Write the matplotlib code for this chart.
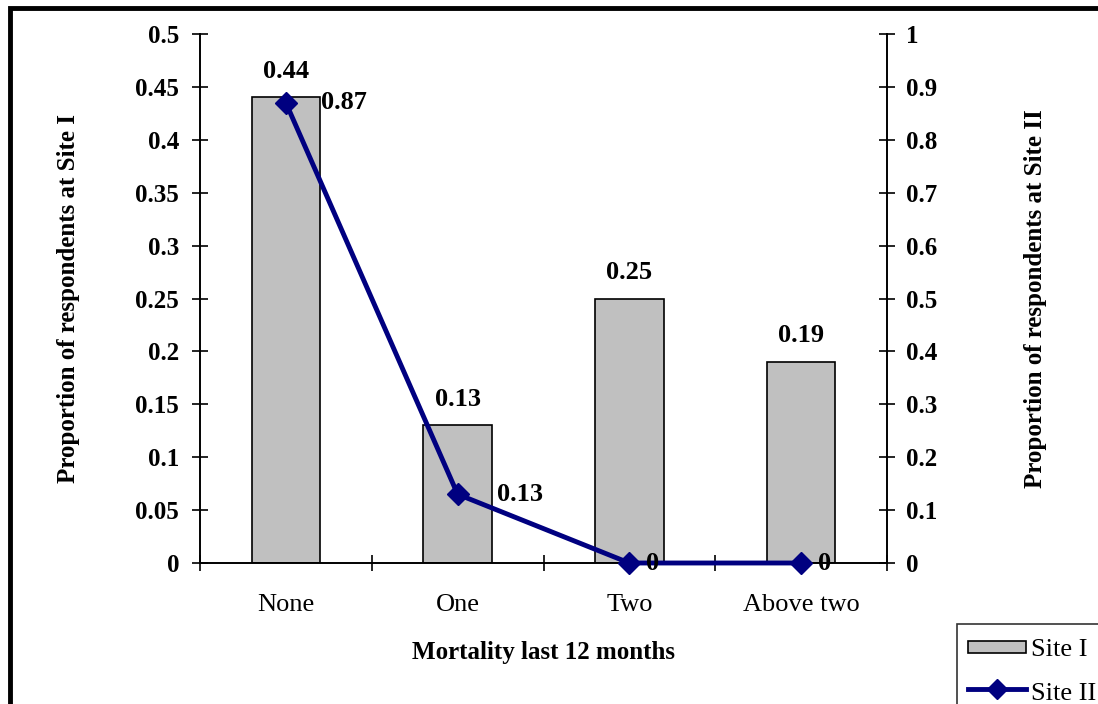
import matplotlib.pyplot as plt
from matplotlib.patches import Rectangle
from matplotlib.lines import Line2D
from matplotlib.patches import Patch
from matplotlib.legend_handler import HandlerPatch

plt.rcParams['font.family'] = ['Liberation Serif', 'DejaVu Serif']

categories = ['None', 'One', 'Two', 'Above two']
site1 = [0.44, 0.13, 0.25, 0.19]
site2 = [0.87, 0.13, 0, 0]
# horizontal shift (points) of the Site II value labels
site2_label_dx = [25, 28, 12, 12]

W, H = 1098, 704
fig = plt.figure(figsize=(W / 100, H / 100), dpi=100)

# axes box in pixel coordinates
left, right, top, bottom = 200, 887, 34, 563
ax = fig.add_axes([left / W, 1 - bottom / H, (right - left) / W, (bottom - top) / H])
ax2 = ax.twinx()

navy = '#000080'
x = list(range(len(categories)))
ax.bar(x, site1, width=0.4, color='#c0c0c0', edgecolor='black', linewidth=1.2, zorder=2)
ax2.plot(x, site2, color=navy, linewidth=3.5, marker='D', markersize=11,
         clip_on=False, zorder=3)

ax.set_xlim(-0.5, 3.5)
ax.set_ylim(0, 0.5)
ax2.set_ylim(0, 1)

ax.set_yticks([i * 0.05 for i in range(11)])
ax.set_yticklabels(['0', '0.05', '0.1', '0.15', '0.2', '0.25', '0.3', '0.35', '0.4', '0.45', '0.5'])
ax2.set_yticks([i * 0.1 for i in range(11)])
ax2.set_yticklabels(['0', '0.1', '0.2', '0.3', '0.4', '0.5', '0.6', '0.7', '0.8', '0.9', '1'])

ax.set_xticks([-0.5, 0.5, 1.5, 2.5, 3.5])
ax.set_xticklabels([])
ax.set_xticks(x, minor=True)
ax.set_xticklabels(categories, minor=True, fontsize=19)
ax.tick_params(axis='x', which='minor', length=0, pad=22)
ax.tick_params(axis='x', which='major', direction='inout', length=12, width=1.2)
ax.tick_params(axis='y', direction='inout', length=12, width=1.2, labelsize=18, pad=9)
ax2.tick_params(axis='y', direction='inout', length=12, width=1.2, labelsize=18, pad=8)
for lab in ax.get_yticklabels() + ax2.get_yticklabels():
    lab.set_fontweight('bold')

for a in (ax, ax2):
    a.spines['top'].set_visible(False)
    for s in ('left', 'right', 'bottom'):
        a.spines[s].set_linewidth(1.2)

ax.set_xlabel('Mortality last 12 months', fontsize=18, fontweight='bold', labelpad=18)
ax.set_ylabel('Proportion of respondents at Site I', fontsize=18, fontweight='bold', labelpad=40)
ax2.set_ylabel('Proportion of respondents at Site II', fontsize=18, fontweight='bold', labelpad=62)

# value labels
for i, v in enumerate(site1):
    ax.annotate(f'{v:g}', (i, v), xytext=(0, 19), textcoords='offset points',
                ha='center', va='center', fontsize=19, fontweight='bold')
for i, v in enumerate(site2):
    ax2.annotate(f'{v:g}', (i, v), xytext=(site2_label_dx[i], 0), textcoords='offset points',
                 ha='left', va='center', fontsize=19, fontweight='bold', zorder=4)


def flat_box(legend, orig_handle, xdescent, ydescent, width, height, fontsize):
    # thinner swatch than the full handle box
    return Rectangle((-xdescent, -ydescent + height * 0.26), width, height * 0.48)


# legend
handles = [Patch(facecolor='#c0c0c0', edgecolor='black', linewidth=1.2),
           Line2D([0], [0], color=navy, linewidth=3.5, marker='D', markersize=10)]
leg = fig.legend(handles, ['Site I', 'Site II'], loc='upper left',
                 bbox_to_anchor=(957 / W, 1 - 624 / H), frameon=True, fancybox=False,
                 fontsize=19, handlelength=2.2, handleheight=1.1, borderpad=0.4,
                 labelspacing=0.65, handletextpad=0.2, borderaxespad=0,
                 handler_map={Patch: HandlerPatch(patch_func=flat_box)})
leg.get_frame().set_edgecolor('black')
leg.get_frame().set_linewidth(1.2)

# outer frame
fig.patches.append(Rectangle((10 / W, -0.1), 1.2, 1 - 8 / H + 0.1, transform=fig.transFigure,
                             fill=False, edgecolor='black', linewidth=3.5))

fig.savefig('out.png', dpi=100)
